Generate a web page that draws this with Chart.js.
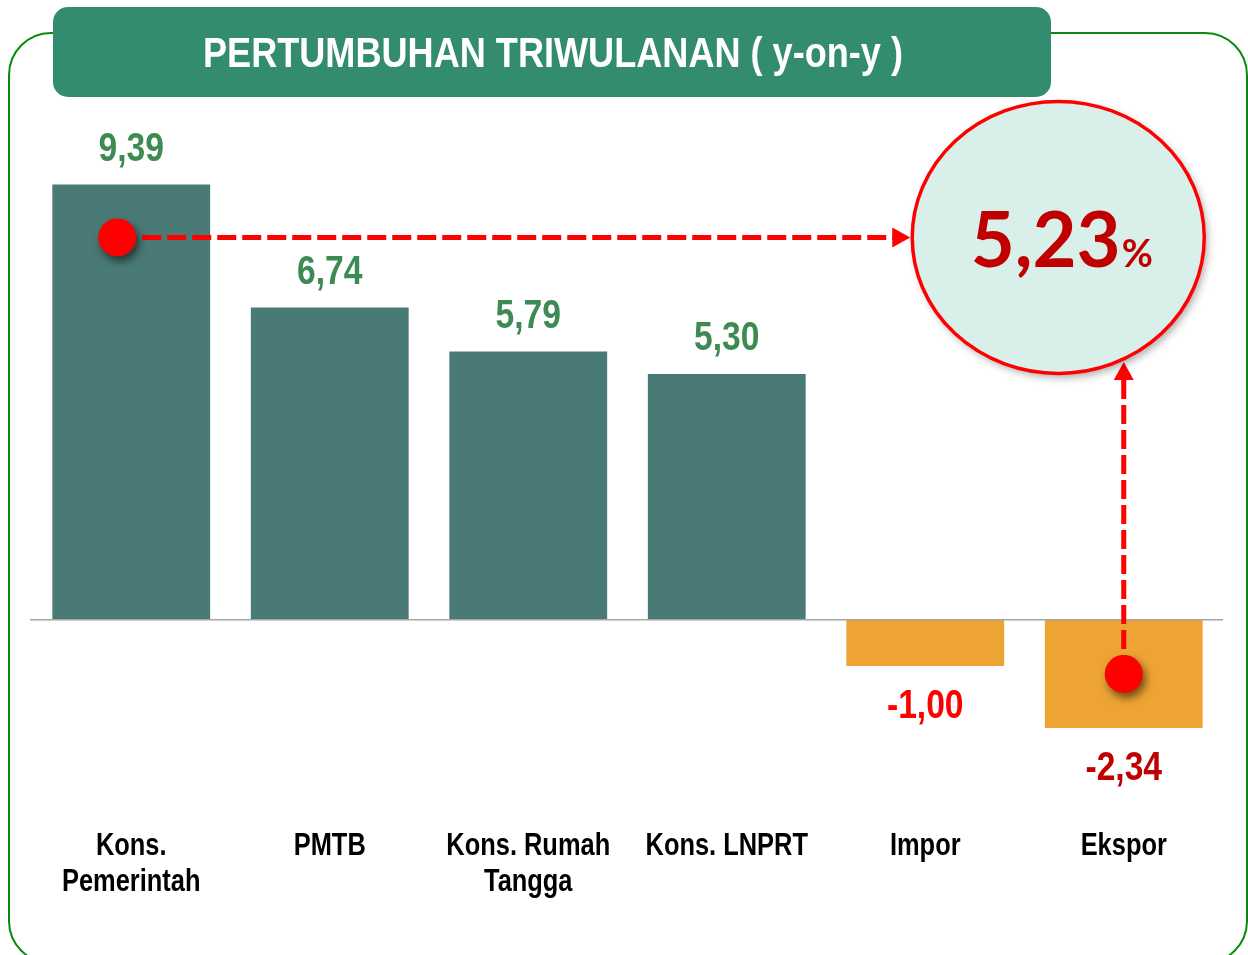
<!DOCTYPE html>
<html>
<head>
<meta charset="utf-8">
<script src="https://cdn.jsdelivr.net/npm/chart.js@4.4.1/dist/chart.umd.min.js"></script>
<style>
  html, body { margin: 0; padding: 0; background: #fff; }
  canvas { display: block; }
</style>
</head>
<body>
<canvas id="chartPertumbuhan" width="1248" height="955"></canvas>
<script>
// Data pertumbuhan triwulanan (y-on-y), komponen PDB pengeluaran
const kategori = [['Kons.', 'Pemerintah'], 'PMTB', ['Kons. Rumah', 'Tangga'], 'Kons. LNPRT', 'Impor', 'Ekspor'];
const nilai = [9.39, 6.74, 5.79, 5.30, -1.00, -2.34];
const labelNilai = ['9,39', '6,74', '5,79', '5,30', '-1,00', '-2,34'];
const judul = 'PERTUMBUHAN TRIWULANAN ( y-on-y )';
const pertumbuhanTotal = '5,23';

// warna
const warnaBatang = ['#4a7a76', '#4a7a76', '#4a7a76', '#4a7a76', '#eda433', '#eda433'];
const warnaLabel = ['#3d8b52', '#3d8b52', '#3d8b52', '#3d8b52', '#ff0000', '#c00000'];
const SANS = '"Liberation Sans", Arial, sans-serif';
const SEMPIT = 0.82; // meniru Arial Narrow

function rrect(ctx, x, y, w, h, r) {
  ctx.beginPath();
  ctx.moveTo(x + r, y);
  ctx.lineTo(x + w - r, y);
  ctx.arcTo(x + w, y, x + w, y + r, r);
  ctx.lineTo(x + w, y + h - r);
  ctx.arcTo(x + w, y + h, x + w - r, y + h, r);
  ctx.lineTo(x + r, y + h);
  ctx.arcTo(x, y + h, x, y + h - r, r);
  ctx.lineTo(x, y + r);
  ctx.arcTo(x, y, x + r, y, r);
  ctx.closePath();
}

// teks sempit: Liberation Sans dipadatkan horizontal
function teksSempit(ctx, teks, x, y, size, warna, skala) {
  ctx.save();
  ctx.font = 'bold ' + size + 'px ' + SANS;
  ctx.fillStyle = warna;
  ctx.textAlign = 'center';
  ctx.textBaseline = 'middle';
  ctx.translate(x, y);
  ctx.scale(skala || SEMPIT, 1);
  ctx.fillText(teks, 0, 0);
  ctx.restore();
}

function panah(ctx, x1, y1, x2, y2) {
  const ang = Math.atan2(y2 - y1, x2 - x1);
  const len = Math.hypot(x2 - x1, y2 - y1) - 16;
  ctx.save();
  ctx.strokeStyle = '#ff0000';
  ctx.fillStyle = '#ff0000';
  ctx.lineWidth = 5;
  ctx.setLineDash([19, 6]);
  ctx.beginPath();
  ctx.moveTo(x1, y1);
  ctx.lineTo(x1 + Math.cos(ang) * len, y1 + Math.sin(ang) * len);
  ctx.stroke();
  ctx.setLineDash([]);
  ctx.translate(x2, y2);
  ctx.rotate(ang);
  ctx.beginPath();
  ctx.moveTo(0, 0);
  ctx.lineTo(-18, -10);
  ctx.lineTo(-18, 10);
  ctx.closePath();
  ctx.fill();
  ctx.restore();
}

function titik(ctx, x, y) {
  ctx.save();
  ctx.shadowColor = 'rgba(0,0,0,0.55)';
  ctx.shadowBlur = 9;
  ctx.shadowOffsetX = 3;
  ctx.shadowOffsetY = 5;
  ctx.fillStyle = '#ff0000';
  ctx.beginPath();
  ctx.arc(x, y, 19, 0, Math.PI * 2);
  ctx.fill();
  ctx.restore();
}

const bingkai = {
  id: 'bingkai',
  beforeDraw(chart) {
    const ctx = chart.ctx;
    ctx.save();
    ctx.fillStyle = '#fff';
    ctx.fillRect(0, 0, chart.width, chart.height);
    ctx.strokeStyle = '#0a8a0a';
    ctx.lineWidth = 2;
    rrect(ctx, 9, 33, 1238, 930, 42);
    ctx.stroke();
    ctx.fillStyle = '#338b70';
    rrect(ctx, 53, 7, 998, 90, 15);
    ctx.fill();
    ctx.font = 'bold 43px ' + SANS;
    const w = ctx.measureText(judul).width;
    ctx.restore();
    teksSempit(ctx, judul, 553, 55, 43, '#fff', 700 / w);
  }
};

const anotasi = {
  id: 'anotasi',
  afterDatasetsDraw(chart) {
    const ctx = chart.ctx;
    const xs = chart.scales.x, ys = chart.scales.y;
    const area = chart.chartArea;
    const bars = chart.getDatasetMeta(0).data;

    // garis nol
    const y0 = ys.getPixelForValue(0);
    ctx.save();
    ctx.strokeStyle = '#a6a6a6';
    ctx.lineWidth = 1.5;
    ctx.beginPath();
    ctx.moveTo(area.left - 2, y0);
    ctx.lineTo(area.right, y0);
    ctx.stroke();
    ctx.restore();

    // label nilai
    bars.forEach((b, i) => {
      const ty = nilai[i] >= 0 ? b.y - 35 : b.y + 41;
      teksSempit(ctx, labelNilai[i], b.x, ty, 41, warnaLabel[i]);
    });

    // label kategori (digambar sempit, posisi dari skala x)
    kategori.forEach((k, i) => {
      const baris = Array.isArray(k) ? k : [k];
      const x = xs.getPixelForValue(i);
      baris.forEach((t, j) => teksSempit(ctx, t, x, area.bottom + 41 + j * 36, 31, '#000'));
    });

    // lingkaran 5,23
    const cx = xs.getPixelForValue(4.67);
    const cy = ys.getPixelForValue(8.25);
    const rx = 146, ry = 136;

    const d0 = { x: bars[0].x - 14, y: cy };
    const d5 = { x: bars[5].x, y: ys.getPixelForValue(nilai[5] / 2) };
    const dx = d5.x - cx;
    const ey = cy + ry * Math.sqrt(1 - (dx / rx) * (dx / rx)) + 3;
    panah(ctx, d0.x, d0.y, cx - rx - 2, cy);
    panah(ctx, d5.x, d5.y, d5.x, ey);

    ctx.save();
    ctx.shadowColor = 'rgba(0,0,0,0.35)';
    ctx.shadowBlur = 8;
    ctx.shadowOffsetX = 3;
    ctx.shadowOffsetY = 4;
    ctx.fillStyle = '#d9efe9';
    ctx.beginPath();
    ctx.ellipse(cx, cy, rx, ry, 0, 0, Math.PI * 2);
    ctx.fill();
    ctx.shadowColor = 'transparent';
    ctx.strokeStyle = '#ff0000';
    ctx.lineWidth = 3.5;
    ctx.stroke();

    ctx.fillStyle = '#c00000';
    ctx.textBaseline = 'alphabetic';
    ctx.font = 'bold 76px Lato, "Open Sans", sans-serif';
    const w1 = ctx.measureText(pertumbuhanTotal).width;
    ctx.font = 'bold 38px Lato, "Open Sans", sans-serif';
    const w2 = ctx.measureText('%').width;
    const sx = cx + 3 - (w1 + w2) / 2;
    ctx.textAlign = 'left';
    ctx.font = 'bold 76px Lato, "Open Sans", sans-serif';
    ctx.fillText(pertumbuhanTotal, sx, cy + 30);
    ctx.font = 'bold 38px Lato, "Open Sans", sans-serif';
    ctx.fillText('%', sx + w1 + 1, cy + 30);
    ctx.restore();

    titik(ctx, d0.x, d0.y);
    titik(ctx, d5.x, d5.y);
  }
};

new Chart(document.getElementById('chartPertumbuhan').getContext('2d'), {
  type: 'bar',
  data: {
    labels: kategori,
    datasets: [{
      data: nilai,
      backgroundColor: warnaBatang,
      borderWidth: 0,
      categoryPercentage: 1,
      barPercentage: 0.795
    }]
  },
  options: {
    responsive: false,
    animation: false,
    layout: { padding: { top: 110, left: 32, right: 25, bottom: 26 } },
    plugins: {
      legend: { display: false },
      tooltip: { enabled: false },
      title: { display: false }
    },
    scales: {
      x: {
        grid: { display: false, drawTicks: false },
        border: { display: false },
        ticks: {
          color: 'rgba(0,0,0,0)',
          padding: 26,
          maxRotation: 0,
          autoSkip: false,
          font: { family: SANS, size: 30, weight: 'bold', lineHeight: 1.2 }
        }
      },
      y: {
        display: false,
        min: -4,
        max: 11
      }
    }
  },
  plugins: [bingkai, anotasi]
});
</script>
</body>
</html>
